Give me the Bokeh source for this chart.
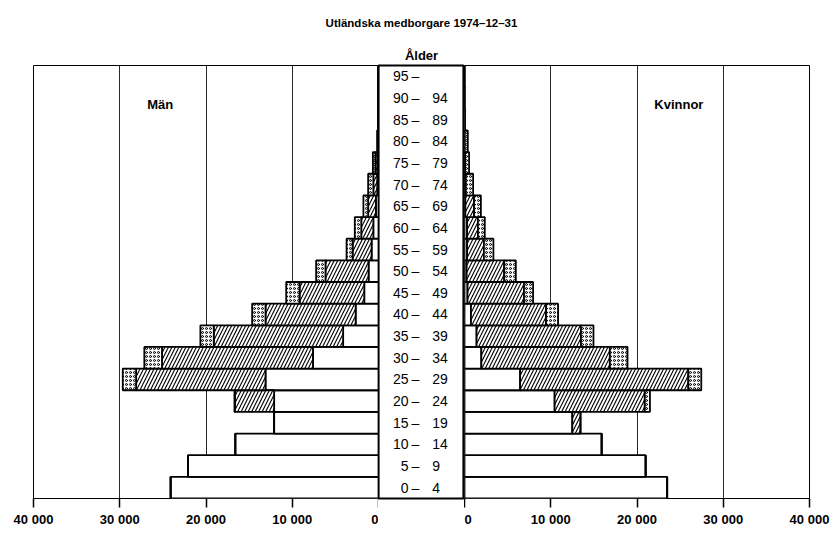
import numpy as np
from bokeh.plotting import figure
from bokeh.layouts import row, column
from bokeh.models import Range1d, FactorRange, FixedTicker, ColumnDataSource, Label
from bokeh.core.properties import value
from bokeh.embed import file_html
from bokeh.resources import INLINE

# ---------------- data (age groups from youngest to oldest) ----------------
age_lo = ["0", "5", "10", "15", "20", "25", "30", "35", "40", "45",
          "50", "55", "60", "65", "70", "75", "80", "85", "90", "95"]
age_hi = ["4", "9", "14", "19", "24", "29", "34", "39", "44", "49",
          "54", "59", "64", "69", "74", "79", "84", "89", "94", ""]
ages = [f"{a} – {b}".strip() for a, b in zip(age_lo, age_hi)]

# Män: three parts of each bar (plain, hatched, dotted)
men_white   = [24100, 22100, 16600, 12100, 12100, 13100, 7600, 4100, 2650, 1650,
               1150, 800, 600, 300, 150, 100, 30, 10, 0, 0]
men_hatched = [0, 0, 0, 0, 4550, 15000, 17500, 15000, 10450, 7500,
               5000, 2200, 1400, 900, 450, 250, 50, 10, 0, 0]
men_dotted  = [0, 0, 0, 0, 50, 1550, 2050, 1550, 1550, 1550,
               1080, 700, 750, 550, 600, 300, 80, 30, 10, 0]

# Kvinnor
women_white   = [23500, 21000, 15900, 12500, 10450, 6450, 1950, 1400, 750, 350,
                 250, 300, 300, 100, 50, 20, 10, 0, 0, 0]
women_hatched = [0, 0, 0, 950, 10450, 19500, 14900, 12100, 8700, 6550,
                 4350, 1950, 1250, 1000, 100, 50, 20, 0, 0, 0]
women_dotted  = [0, 0, 0, 0, 600, 1500, 2050, 1450, 1400, 1050,
                 1350, 1100, 800, 800, 850, 460, 350, 60, 20, 0]

tick_values = [0, 10000, 20000, 30000, 40000]
tick_labels = ["0", "10 000", "20 000", "30 000", "40 000"]
grid_values = [10000, 20000, 30000]

title_text = "Utländska medborgare 1974–12–31"
axis_title = "Ålder"
men_label = "Män"
women_label = "Kvinnor"

FONT = "Liberation Sans"
FRAME_H = 433
SIDE_W = 345
MID_W = 86
TOP_H = 62
BORDER_TOP = 3
BORDER_BOTTOM = 30
LEFT_B = 33
RIGHT_B = 29


def make_source(white, hatched, dotted):
    w = np.array(white, dtype=float)
    h = np.array(hatched, dtype=float)
    d = np.array(dotted, dtype=float)
    c1 = w
    c2 = w + h
    c3 = w + h + d
    return ColumnDataSource(dict(age=ages, z=np.zeros_like(w), c1=c1, c2=c2, c3=c3))


def side_figure(x_range, src, border_left, border_right, label, label_x):
    p = figure(x_range=x_range, y_range=FactorRange(factors=ages),
               frame_width=SIDE_W, frame_height=FRAME_H,
               min_border_left=border_left, min_border_right=border_right,
               min_border_top=BORDER_TOP, min_border_bottom=BORDER_BOTTOM,
               output_backend="svg", toolbar_location=None)
    p.outline_line_color = "black"
    p.outline_line_width = 1
    p.background_fill_color = "white"
    p.border_fill_color = "white"
    p.yaxis.visible = False
    p.ygrid.visible = False
    p.xgrid.ticker = FixedTicker(ticks=grid_values)
    p.xgrid.grid_line_color = "black"
    p.xgrid.grid_line_width = 1
    p.xgrid.grid_line_alpha = 0.85

    ax = p.xaxis[0]
    ax.ticker = FixedTicker(ticks=tick_values)
    ax.major_label_overrides = {v: t for v, t in zip(tick_values, tick_labels)}
    ax.axis_line_color = None
    ax.major_tick_in = 0
    ax.major_tick_out = 9
    ax.major_tick_line_width = 1.5
    ax.major_tick_line_color = "black"
    ax.minor_tick_line_color = None
    ax.major_label_standoff = 4
    ax.major_label_text_font = FONT
    ax.major_label_text_font_size = "13px"
    ax.major_label_text_font_style = "bold"
    ax.major_label_text_color = "black"

    common = dict(y="age", height=1, source=src, fill_color="white",
                  line_color="black", line_width=1.8)
    p.hbar(left="z", right="c1", **common)
    p.hbar(left="c1", right="c2", hatch_pattern="/", hatch_color="black",
           hatch_scale=7, hatch_weight=1.1, **common)
    p.hbar(left="c2", right="c3", hatch_pattern="o", hatch_color="black",
           hatch_scale=4, hatch_weight=1, **common)

    p.add_layout(Label(x=label_x, y=18.2, text=label, text_font=FONT,
                       text_font_size="13px", text_font_style="bold",
                       text_align="center", text_baseline="middle",
                       text_color="black"))
    return p


men_src = make_source(men_white, men_hatched, men_dotted)
women_src = make_source(women_white, women_hatched, women_dotted)

left = side_figure(Range1d(40000, 0), men_src, LEFT_B, 0, men_label, 25300)
right = side_figure(Range1d(0, 40000), women_src, 0, RIGHT_B, women_label, 24850)

# middle column with age labels
mid = figure(x_range=Range1d(0, 1), y_range=FactorRange(factors=ages),
             frame_width=MID_W, frame_height=FRAME_H,
             min_border_left=0, min_border_right=0,
             min_border_top=BORDER_TOP, min_border_bottom=BORDER_BOTTOM,
             output_backend="svg", toolbar_location=None)
mid.axis.visible = False
mid.grid.visible = False
mid.outline_line_color = "black"
mid.outline_line_width = 2.2
lab_src = ColumnDataSource(dict(age=ages, lo=age_lo, hi=age_hi,
                                dash=["–"] * len(ages)))
txt = dict(y="age", source=lab_src, text_font=value(FONT),
           text_font_size="14px", text_baseline="middle", text_color="black")
mid.text(x=0.35, text="lo", text_align="right", **txt)
mid.text(x=0.43, text="dash", text_align="center", **txt)
mid.text(x=0.625, text="hi", text_align="left", **txt)

# top strip with the titles
W = LEFT_B + SIDE_W + MID_W + SIDE_W + RIGHT_B
top = figure(x_range=Range1d(0, W), y_range=Range1d(0, TOP_H),
             width=W, height=TOP_H, min_border=0,
             output_backend="svg", toolbar_location=None)
top.axis.visible = False
top.grid.visible = False
top.outline_line_color = None
center_x = LEFT_B + SIDE_W + MID_W / 2
top.text(x=[center_x], y=[TOP_H - 22], text=[title_text], text_font=value(FONT),
         text_font_size="11.5px", text_font_style="bold", text_align="center",
         text_baseline="middle", text_color="black")
top.text(x=[center_x], y=[TOP_H - 55], text=[axis_title], text_font=value(FONT),
         text_font_size="13px", text_font_style="bold", text_align="center",
         text_baseline="middle", text_color="black")

layout = column(top, row(left, mid, right))

open("out.html", "w").write(file_html(layout, INLINE))
